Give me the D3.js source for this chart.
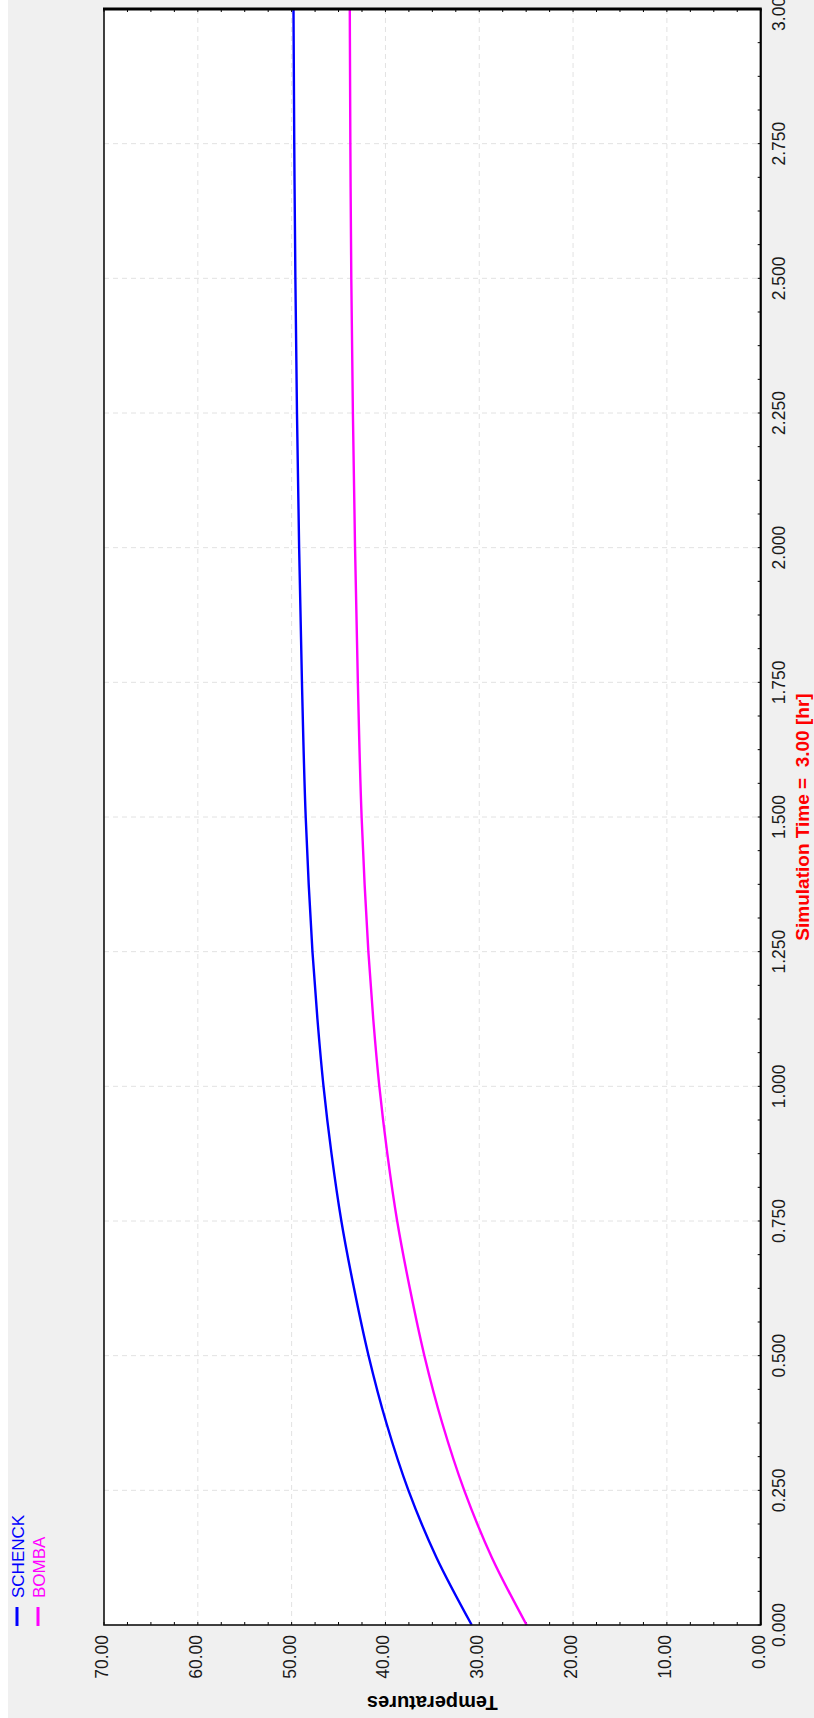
<!DOCTYPE html>
<html>
<head>
<meta charset="utf-8">
<script src="https://cdn.jsdelivr.net/npm/d3@7"></script>
<style>
  html, body { margin: 0; padding: 0; background: #f0f0f0; }
  svg { display: block; }
</style>
</head>
<body>
<svg id="chart" width="814" height="1718"></svg>
<script>
// Simulation time [hr]
const times = [0, 0.125, 0.25, 0.375, 0.5, 0.625, 0.75, 0.875, 1.0, 1.125, 1.25, 1.375, 1.5, 1.75, 2.0, 2.25, 2.5, 2.75, 3.0];
// Temperatures of each unit
const schenck = [30.8, 34.55, 37.55, 39.9, 41.8, 43.35, 44.7, 45.75, 46.6, 47.25, 47.78, 48.18, 48.5, 48.9, 49.2, 49.43, 49.6, 49.72, 49.8];
const bomba = [24.95, 28.65, 31.6, 33.95, 35.85, 37.4, 38.75, 39.8, 40.65, 41.3, 41.82, 42.22, 42.54, 42.94, 43.24, 43.47, 43.64, 43.74, 43.8];

const seriesNames = ["SCHENCK", "BOMBA"];
const seriesColors = ["#0000ff", "#ff00ff"];
const timeTicks = [0, 0.25, 0.5, 0.75, 1.0, 1.25, 1.5, 1.75, 2.0, 2.25, 2.5, 2.75, 3.0];
const tempTicks = [0, 10, 20, 30, 40, 50, 60, 70];
const titleText = "Simulation Time =  3.00 [hr]";
const yTitle = "Temperatures";

const W = 1718, H = 814; // landscape layout, turned a quarter counter-clockwise on the page
const plot = { left: 93, right: 1709, top: 104, bottom: 760.7 };

const svg = d3.select("#chart");
svg.append("rect").attr("x", 0).attr("y", 0).attr("width", 814).attr("height", 1718).attr("fill", "#f0f0f0");

const g = svg.append("g").attr("transform", `translate(0,${W}) rotate(-90)`);

// thin white strip along the top edge of the landscape frame
g.append("rect").attr("x", 0).attr("y", 0).attr("width", W).attr("height", 8).attr("fill", "#ffffff");

const x = d3.scaleLinear().domain([0, 3]).range([plot.left, plot.right]);
const y = d3.scaleLinear().domain([0, 70]).range([plot.bottom, plot.top]);

// plot area
g.append("rect")
  .attr("x", plot.left).attr("y", plot.top)
  .attr("width", plot.right - plot.left).attr("height", plot.bottom - plot.top)
  .attr("fill", "#ffffff");

// dashed grid
const grid = g.append("g").attr("stroke", "#e2e2e2").attr("stroke-width", 1).attr("stroke-dasharray", "5,4");
grid.selectAll("line.gx").data(timeTicks.slice(1, -1)).join("line")
  .attr("x1", d => x(d)).attr("x2", d => x(d))
  .attr("y1", plot.top).attr("y2", plot.bottom);
grid.selectAll("line.gy").data(tempTicks.slice(1, -1)).join("line")
  .attr("x1", plot.left).attr("x2", plot.right)
  .attr("y1", d => y(d)).attr("y2", d => y(d));

// minor ticks inside the frame
const minorT = d3.range(0, 3.0001, 0.0625);
const minorY = d3.range(0, 70.001, 2.5);
const ticks = g.append("g").attr("stroke", "#000").attr("stroke-width", 1);
ticks.selectAll("line.tb").data(minorT).join("line")
  .attr("x1", d => x(d)).attr("x2", d => x(d))
  .attr("y1", plot.bottom).attr("y2", plot.bottom - 3);
ticks.selectAll("line.tl").data(minorY).join("line")
  .attr("x1", plot.left).attr("x2", plot.left + 3)
  .attr("y1", d => y(d)).attr("y2", d => y(d));
ticks.selectAll("line.tr").data(minorY).join("line")
  .attr("x1", plot.right).attr("x2", plot.right - 3)
  .attr("y1", d => y(d)).attr("y2", d => y(d));

// series lines
const line = d3.line().x(d => x(d[0])).y(d => y(d[1])).curve(d3.curveMonotoneX);
[schenck, bomba].forEach((vals, i) => {
  g.append("path")
    .datum(times.map((t, k) => [t, vals[k]]))
    .attr("fill", "none")
    .attr("stroke", seriesColors[i])
    .attr("stroke-width", 2.4)
    .attr("d", line);
});

// frame
g.append("rect")
  .attr("x", plot.left).attr("y", plot.top)
  .attr("width", plot.right - plot.left).attr("height", plot.bottom - plot.top)
  .attr("fill", "none").attr("stroke", "#111").attr("stroke-width", 1.6);
g.append("line")
  .attr("x1", plot.right).attr("x2", plot.right)
  .attr("y1", plot.top - 1).attr("y2", plot.bottom + 1)
  .attr("stroke", "#000").attr("stroke-width", 3);
g.append("line")
  .attr("x1", plot.left).attr("x2", plot.right)
  .attr("y1", plot.bottom).attr("y2", plot.bottom)
  .attr("stroke", "#000").attr("stroke-width", 2);

const font = "'Liberation Sans', Arial, sans-serif";

// time axis labels
g.append("g").selectAll("text").data(timeTicks).join("text")
  .attr("x", d => x(d)).attr("y", plot.bottom + 24)
  .attr("text-anchor", "middle")
  .attr("font-family", font).attr("font-size", 17.5).attr("fill", "#1a1a1a")
  .text(d => d3.format(".3f")(d));

// temperature axis labels
g.append("g").selectAll("text").data(tempTicks).join("text")
  .attr("x", plot.left - 10).attr("y", d => y(d) + 4)
  .attr("text-anchor", "end")
  .attr("font-family", font).attr("font-size", 17.5).attr("fill", "#1a1a1a")
  .text(d => d3.format(".2f")(d));

// axis title
g.append("text")
  .attr("transform", `translate(22,${(plot.top + plot.bottom) / 2}) rotate(-90)`)
  .attr("text-anchor", "middle")
  .attr("font-family", font).attr("font-size", 20).attr("font-weight", "bold").attr("fill", "#000")
  .text(yTitle);

// simulation time caption
g.append("text")
  .attr("x", (plot.left + plot.right) / 2).attr("y", 809)
  .attr("text-anchor", "middle")
  .attr("font-family", font).attr("font-size", 19).attr("font-weight", "bold").attr("fill", "#ff0000")
  .style("white-space", "pre")
  .text(titleText);

// legend
const legend = g.append("g");
seriesNames.forEach((name, i) => {
  const ly = 17 + i * 21;
  legend.append("line")
    .attr("x1", 92).attr("x2", 111).attr("y1", ly).attr("y2", ly)
    .attr("stroke", seriesColors[i]).attr("stroke-width", 3);
  legend.append("text")
    .attr("x", 120).attr("y", ly + 7)
    .attr("font-family", font).attr("font-size", 17).attr("fill", seriesColors[i])
    .text(name);
});
</script>
</body>
</html>
